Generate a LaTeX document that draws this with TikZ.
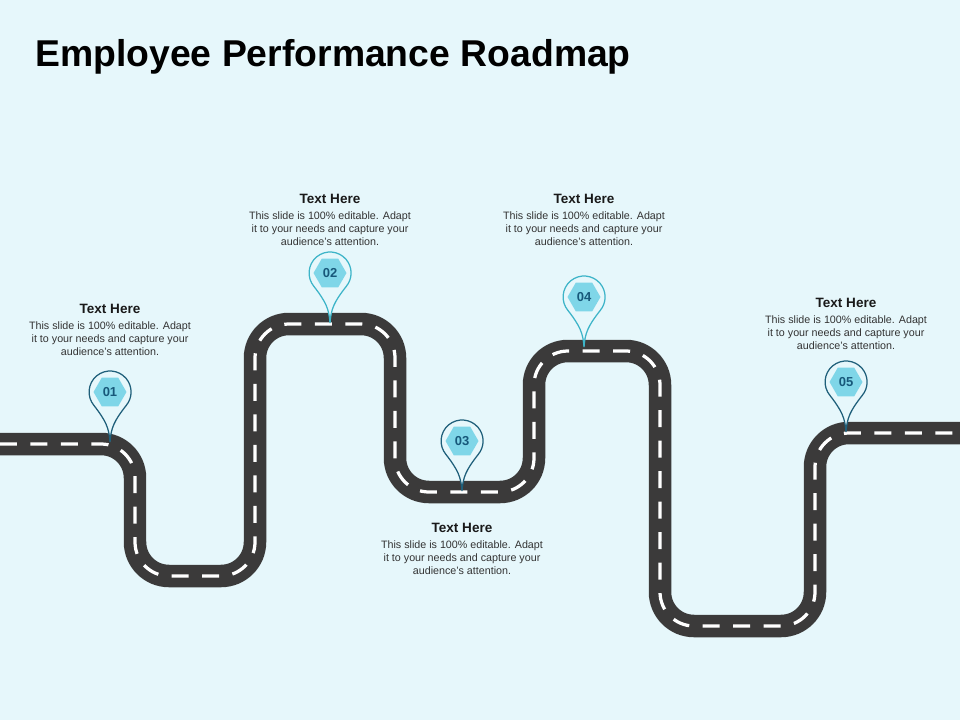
\documentclass[tikz,border=0pt]{standalone}
\usepackage{xcolor}
\usepackage{fontspec}
\setmainfont{Liberation Sans}
\usetikzlibrary{positioning,shapes.geometric}

\definecolor{slidebg}{HTML}{E6F7FB}
\definecolor{roadgray}{HTML}{3B3A3A}
\definecolor{hexblue}{HTML}{7FD6E8}
\definecolor{pindark}{HTML}{1F5F7A}
\definecolor{pinlight}{HTML}{3DB4C8}
\definecolor{numblue}{HTML}{17587A}

\tikzset{
  x=0.02cm, y=-0.02cm,
  roadbase/.style={draw=roadgray, line width=0.45cm},
  roadmark/.style={draw=white, line width=0.065cm, dash pattern=on 0.34cm off 0.27cm},
  hexnode/.style={regular polygon, regular polygon sides=6, fill=hexblue, inner sep=0pt,
    minimum size=0.66cm, text=numblue, font=\fontsize{7.4}{8}\selectfont\bfseries},
  headtext/.style={font=\fontsize{7.7}{9}\selectfont\bfseries, text=black!90, inner sep=0pt},
  bodytext/.style={font=\fontsize{6.1}{7.4}\selectfont, text=black!80, align=center, inner sep=0pt},
  pinshape/.pic={
    \draw[fill=slidebg, line width=0.025cm, x=0.02cm, y=0.02cm, pic actions]
      (0,0) .. controls (-1,14) and (-4,21) .. (-16,36.5) arc (220:-40:21)
      .. controls (4,21) and (1,14) .. (0,0);
  }
}

\begin{document}
\begin{tikzpicture}
  \useasboundingbox (0,0) rectangle (960,720);
  \fill[slidebg] (0,0) rectangle (960,720);

  % title
  \node[anchor=west, inner sep=0pt, font=\fontsize{21.25}{24}\selectfont\bfseries] (title) at (35,57) {Employee Performance Roadmap};

  % road
  \path[preaction={roadbase}, postaction={roadmark}, rounded corners=0.68cm]
    (0,444) -- (135,444) -- (135,576) -- (255,576) -- (255,324) -- (395,324) -- (395,492)
    -- (534,492) -- (534,351) -- (660,351) -- (660,626) -- (815,626) -- (815,433) -- (960,433);

  % pins
  \coordinate (tip1) at (110,442);
  \coordinate (tip2) at (330,323);
  \coordinate (tip3) at (462,491);
  \coordinate (tip4) at (584,347);
  \coordinate (tip5) at (846,432);

  \pic[draw=pindark] at (tip1) {pinshape};
  \pic[draw=pinlight] at (tip2) {pinshape};
  \pic[draw=pindark] at (tip3) {pinshape};
  \pic[draw=pinlight] at (tip4) {pinshape};
  \pic[draw=pindark] at (tip5) {pinshape};

  \node[hexnode] (hex1) at (110,392) {01};
  \node[hexnode] (hex2) at (330,273) {02};
  \node[hexnode] (hex3) at (462,441) {03};
  \node[hexnode] (hex4) at (584,297) {04};
  \node[hexnode] (hex5) at (846,382) {05};

  % labels
  \node[headtext] (head1) at (110,309) {Text Here};
  \node[bodytext, below=0.14cm of head1] (body1) {This slide is 100\% editable.  Adapt\\it to your needs and capture your\\audience's attention.};

  \node[headtext] (head2) at (330,199) {Text Here};
  \node[bodytext, below=0.14cm of head2] (body2) {This slide is 100\% editable.  Adapt\\it to your needs and capture your\\audience's attention.};

  \node[headtext] (head3) at (462,528) {Text Here};
  \node[bodytext, below=0.14cm of head3] (body3) {This slide is 100\% editable.  Adapt\\it to your needs and capture your\\audience's attention.};

  \node[headtext] (head4) at (584,199) {Text Here};
  \node[bodytext, below=0.14cm of head4] (body4) {This slide is 100\% editable.  Adapt\\it to your needs and capture your\\audience's attention.};

  \node[headtext] (head5) at (846,303) {Text Here};
  \node[bodytext, below=0.14cm of head5] (body5) {This slide is 100\% editable.  Adapt\\it to your needs and capture your\\audience's attention.};
\end{tikzpicture}
\end{document}
